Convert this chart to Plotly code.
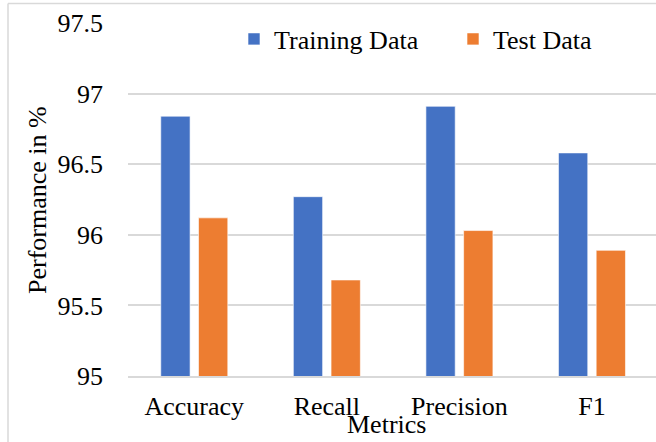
import plotly.graph_objects as go

# Metric categories and scores (%)
metrics = ["Accuracy", "Recall", "Precision", "F1"]
training_scores = [96.84, 96.27, 96.91, 96.58]
test_scores = [96.12, 95.68, 96.03, 95.89]
y_ticks = [95, 95.5, 96, 96.5, 97, 97.5]
y_tick_text = ["95", "95.5", "96", "96.5", "97", "97.5"]

W, H = 656, 442
L, R, T, B = 128, 0, 23, 66
FONT = "Liberation Serif"
FS = 26
GRID = "#d9d9d9"
BLACK = "#000000"

plot_w = W - L - R
plot_h = H - T - B


def px_x(p):
    """Pixel x -> paper x."""
    return (p - L) / plot_w


def px_y(p):
    """Pixel y (from top) -> paper y."""
    return 1 - (p - T) / plot_h


def text_font():
    return dict(family=FONT, size=FS, color=BLACK)


fig = go.Figure()
fig.add_trace(go.Bar(
    x=metrics, y=training_scores, name="Training Data", legend="legend",
    marker=dict(color="#4472C4", line=dict(color="rgba(255,255,255,0.6)", width=1)),
))
fig.add_trace(go.Bar(
    x=metrics, y=test_scores, name="Test Data", legend="legend2",
    marker=dict(color="#ED7D31", line=dict(color="rgba(255,255,255,0.6)", width=1)),
))

legend_common = dict(
    orientation="h", xanchor="left", yanchor="middle",
    font=text_font(), bgcolor="rgba(0,0,0,0)",
)

fig.update_layout(
    template="none",
    width=W, height=H,
    margin=dict(l=L, r=R, t=T, b=B, pad=0),
    paper_bgcolor="white", plot_bgcolor="white",
    font=text_font(),
    barmode="group", bargap=0.431, bargroupgap=0.223,
    showlegend=True,
    legend=dict(x=px_x(234), y=px_y(39), **legend_common),
    legend2=dict(x=px_x(453), y=px_y(39), **legend_common),
    xaxis=dict(
        range=[-0.5, 3.5 - 2.25 / 132.5],
        showgrid=False, showline=True, linecolor=GRID, linewidth=1.5,
        ticks="", ticklabelstandoff=6,
        tickfont=text_font(),
        fixedrange=True,
    ),
    yaxis=dict(
        range=[95, 97.5], tickvals=y_ticks, ticktext=y_tick_text,
        showgrid=True, gridcolor=GRID, gridwidth=1.5,
        showline=False, zeroline=False, ticks="",
        ticklabelstandoff=24,
        tickfont=text_font(),
        fixedrange=True,
    ),
    annotations=[
        dict(text="Metrics", xref="paper", yref="paper",
             x=px_x(386), y=px_y(441), xanchor="center", yanchor="bottom",
             showarrow=False, font=text_font()),
        dict(text="Performance in %", xref="paper", yref="paper",
             x=px_x(37), y=px_y(200), xanchor="center", yanchor="middle",
             textangle=-90, showarrow=False, font=text_font()),
    ],
    shapes=[
        # chart frame (left and top edges)
        dict(type="line", xref="paper", yref="paper",
             x0=px_x(8), x1=px_x(8), y0=px_y(3.5), y1=px_y(H + 5),
             line=dict(color=GRID, width=1.5)),
        dict(type="line", xref="paper", yref="paper",
             x0=px_x(8), x1=px_x(W + 5), y0=px_y(3.5), y1=px_y(3.5),
             line=dict(color=GRID, width=1.5)),
    ],
)

fig.write_html("out.html")
